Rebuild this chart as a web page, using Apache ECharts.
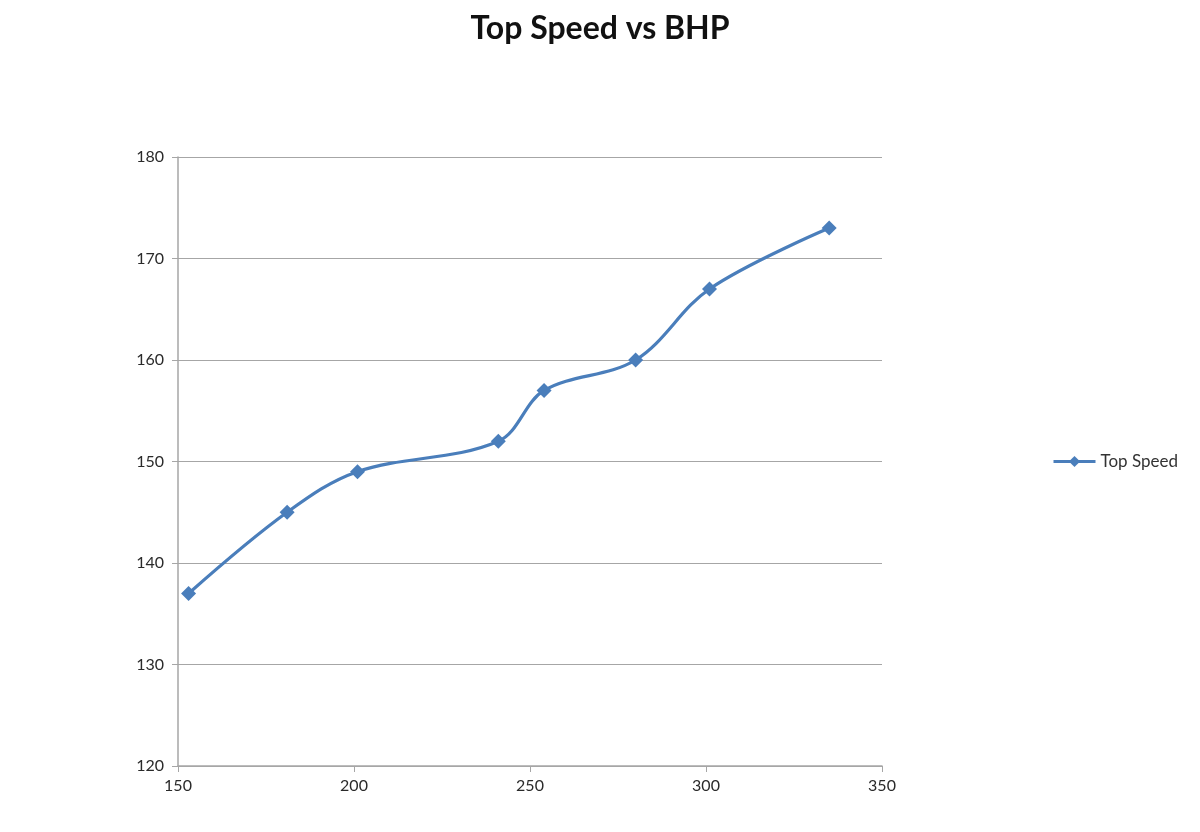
<!DOCTYPE html>
<html><head><meta charset="utf-8">
<script src="https://cdn.jsdelivr.net/npm/echarts@6/dist/echarts.min.js"></script>
<style>html,body{margin:0;padding:0;background:#fff;}#c{width:1200px;height:832px;}</style>
</head><body><div id="c"></div>
<script>
const bhp = [153, 181, 201, 241, 254, 280, 301, 335];
const topSpeed = [137, 145, 149, 152, 157, 160, 167, 173];
const seriesName = 'Top Speed';
const titleText = 'Top Speed vs BHP';

const chart = echarts.init(document.getElementById('c'), null, {renderer: 'canvas'});
chart.setOption({
  animation: false,
  backgroundColor: '#ffffff',
  title: {
    text: titleText, left: 'center', top: 8,
    textStyle: {fontFamily: 'Lato', fontWeight: 'bold', fontSize: 32, color: '#111'}
  },
  legend: {
    left: 1052, top: 453, orient: 'vertical', padding: 0,
    itemWidth: 42, itemHeight: 14, itemGap: 4,
    lineStyle: {width: 3},
    textStyle: {fontFamily: 'Lato', fontSize: 17, color: '#333'},
    data: [seriesName]
  },
  grid: {left: 178, right: 318, top: 157, bottom: 66, containLabel: false},
  xAxis: {
    type: 'value', min: 150, max: 350, interval: 50,
    axisLine: {show: true, lineStyle: {color: '#a6a6a6', width: 1.5}},
    axisTick: {show: true, length: 6, lineStyle: {color: '#a6a6a6'}},
    splitLine: {show: false},
    axisLabel: {fontFamily: 'Lato', fontSize: 16, color: '#2a2a2a', margin: 12}
  },
  yAxis: {
    type: 'value', min: 120, max: 180, interval: 10,
    axisLine: {show: true, lineStyle: {color: '#a6a6a6', width: 1.5}},
    axisTick: {show: true, length: 6, lineStyle: {color: '#a6a6a6'}},
    splitLine: {show: true, lineStyle: {color: '#a6a6a6', width: 1.2}},
    axisLabel: {fontFamily: 'Lato', fontSize: 16, color: '#2a2a2a', margin: 14}
  },
  series: [{
    name: seriesName, type: 'line', smooth: 0.35,
    data: bhp.map((x, i) => [x, topSpeed[i]]),
    symbol: 'diamond', symbolSize: 15,
    itemStyle: {color: '#4a7ebb'},
    lineStyle: {color: '#4a7ebb', width: 3.2}
  }]
});
</script></body></html>
